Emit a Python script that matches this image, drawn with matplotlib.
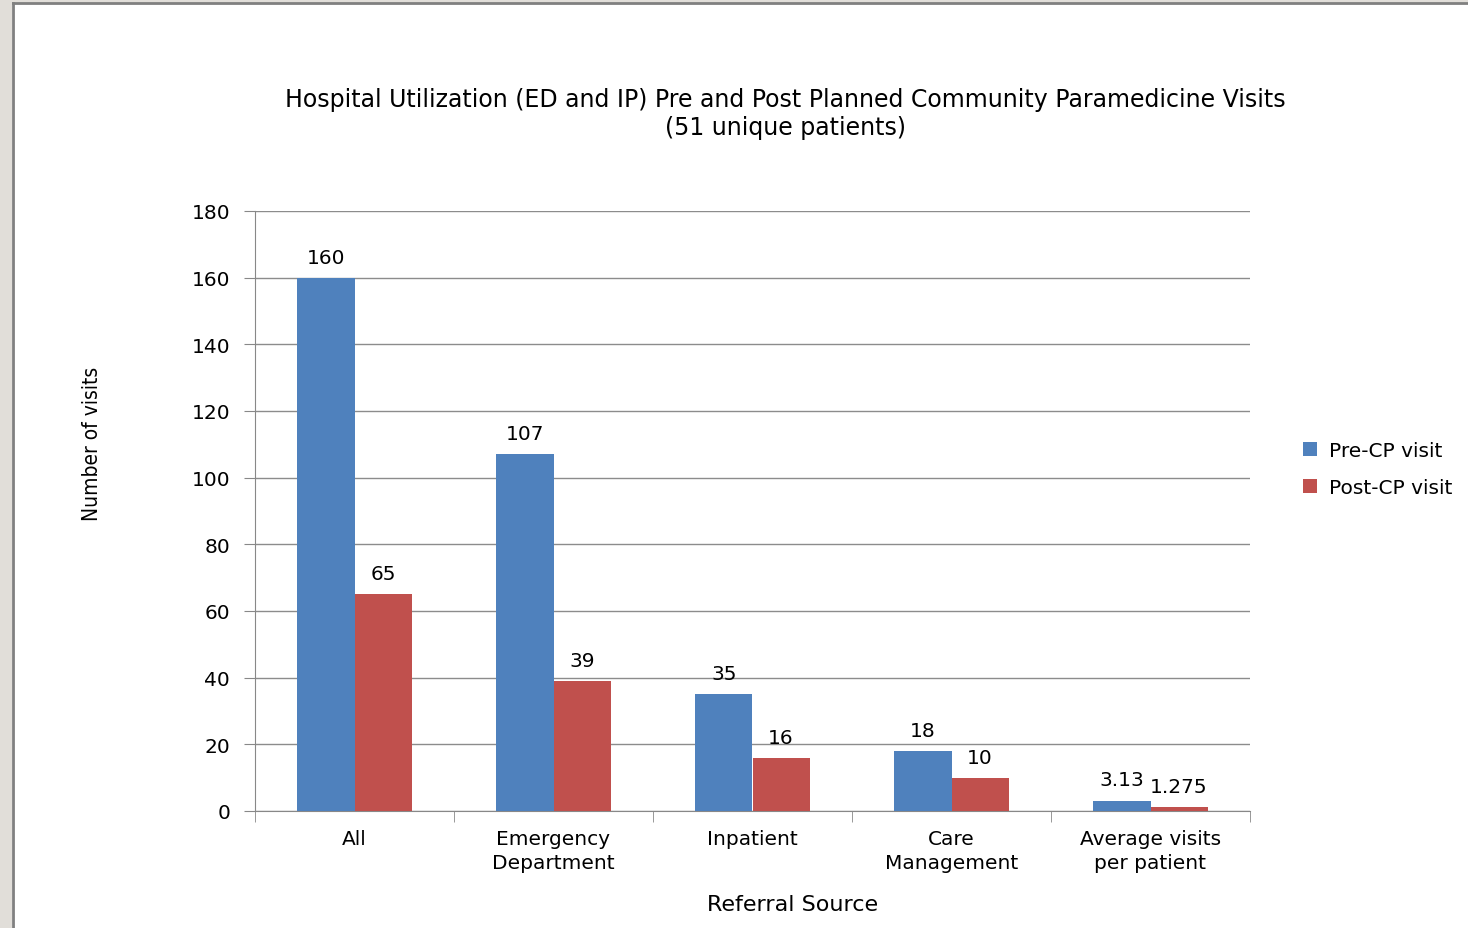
import numpy as np
import matplotlib
matplotlib.use("Agg")
import matplotlib.pyplot as plt
from matplotlib.patches import Rectangle

categories = ["All", "Emergency\nDepartment", "Inpatient", "Care\nManagement", "Average visits\nper patient"]
pre_cp = [160, 107, 35, 18, 3.13]
post_cp = [65, 39, 16, 10, 1.275]
pre_labels = ["160", "107", "35", "18", "3.13"]
post_labels = ["65", "39", "16", "10", "1.275"]

plt.rcParams['font.family'] = ['DejaVu Sans']

fig = plt.figure(figsize=(14.68, 9.29), dpi=100)
fig.patch.set_facecolor("white")

# window-like frame around the chart
fig.patches.append(Rectangle((0, 0), 12 / 1468, 1, transform=fig.transFigure,
                             facecolor="#e1ded9", edgecolor="none", zorder=0))
fig.patches.append(Rectangle((0, 1 - 4 / 929), 1, 4 / 929, transform=fig.transFigure,
                             facecolor="#e1ded9", edgecolor="none", zorder=0))
fig.lines.append(plt.Line2D([13 / 1468, 13 / 1468], [0, 1 - 4 / 929], transform=fig.transFigure,
                            color="#808080", lw=2))
fig.lines.append(plt.Line2D([13 / 1468, 1], [1 - 4 / 929, 1 - 4 / 929], transform=fig.transFigure,
                            color="#808080", lw=2))

ax = fig.add_axes([255 / 1468, 117 / 929, 995 / 1468, 600 / 929])

x = np.arange(len(categories))
w = 0.287
b1 = ax.bar(x - w / 2, pre_cp, w, color="#4F81BD", label="Pre-CP visit", zorder=3)
b2 = ax.bar(x + w / 2, post_cp, w, color="#C0504D", label="Post-CP visit", zorder=3)

for rect, lab in zip(b1, pre_labels):
    ax.annotate(lab, (rect.get_x() + rect.get_width() / 2, rect.get_height()),
                xytext=(0, 8), textcoords="offset points", ha="center", va="bottom", fontsize=14.5)
for rect, lab in zip(b2, post_labels):
    ax.annotate(lab, (rect.get_x() + rect.get_width() / 2, rect.get_height()),
                xytext=(0, 8), textcoords="offset points", ha="center", va="bottom", fontsize=14.5)

ax.set_xlim(-0.5, len(categories) - 0.5)
ax.set_ylim(0, 180)
ax.set_yticks(range(0, 181, 20))
ax.tick_params(axis="y", labelsize=14.5, length=8, color="#888888", pad=10)
ax.set_xticks(x)
ax.set_xticklabels(categories, fontsize=14.5, linespacing=1.35)
ax.tick_params(axis="x", length=0, pad=13)
ax.set_xticks(np.arange(-0.5, len(categories), 1), minor=True)
ax.tick_params(axis="x", which="minor", length=8, color="#888888")

ax.grid(axis="y", color="#8c8c8c", lw=1, zorder=0)
for side in ["top", "right"]:
    ax.spines[side].set_visible(False)
ax.spines["left"].set_color("#888888")
ax.spines["bottom"].set_color("#888888")

fig.text(793 / 1468, 1 - 905 / 929, "Referral Source", ha="center", va="center", fontsize=16)
fig.text(92 / 1468, 1 - 444 / 929, "Number of visits", rotation=90, fontsize=15,
         stretch="condensed", ha="center", va="center")

fig.text(785 / 1468, 1 - 114 / 929,
         "Hospital Utilization (ED and IP) Pre and Post Planned Community Paramedicine Visits\n(51 unique patients)",
         ha="center", va="center", fontsize=17, linespacing=1.2)

ax.legend(loc="center left", bbox_to_anchor=(1.035, 0.57), frameon=False, fontsize=14.5,
          handlelength=0.7, handleheight=0.7, handletextpad=0.6, labelspacing=0.9)

fig.savefig("out.png", dpi=100)
